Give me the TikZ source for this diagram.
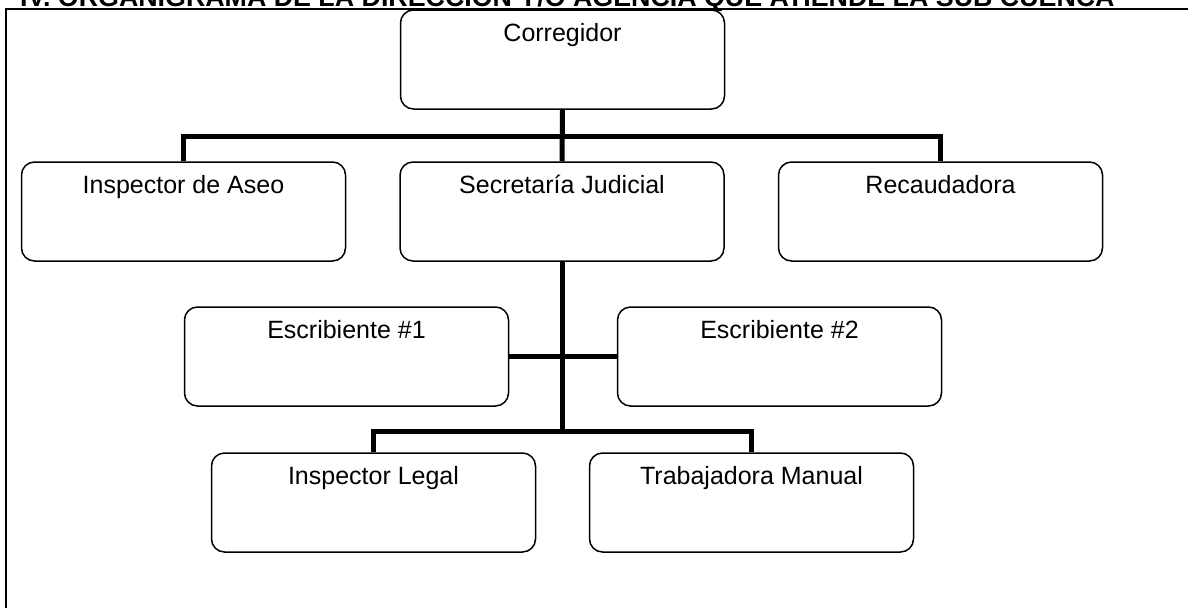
\documentclass[tikz,border=0pt]{standalone}
\usepackage{fontspec}
\setmainfont{Liberation Sans}
\begin{document}
\begin{tikzpicture}[x=1pt,y=1pt,
  box/.style={draw, line width=1.5pt, rounded corners=13pt, minimum width=324pt,
    inner xsep=0pt, inner ysep=0pt, text height=31pt, text depth=68pt,
    font=\fontsize{25}{30}\selectfont, align=center},
  conn/.style={line width=5pt},
  frame/.style={line width=2.5pt}]
\useasboundingbox (0,0) rectangle (1188,-608);
\fill[white] (0,0) rectangle (1188,-608);
\node[anchor=base west, inner sep=0pt, font=\bfseries\fontsize{26.8}{30}\selectfont] (title) at (20,-6)
  {IV. ORGANIGRAMA DE LA DIRECCIÓN Y/O AGENCIA QUE ATIENDE LA SUB CUENCA};
\draw[frame] (6,-608) -- (6,-9) -- (1188,-9);
\node[box] (cor) at (562.5,-59.5) {Corregidor};
\node[box] (asp) at (183.5,-211.5) {Inspector de Aseo};
\node[box] (sec) at (562,-211.5) {Secretaría Judicial};
\node[box] (rec) at (940.5,-211.5) {Recaudadora};
\node[box] (es1) at (346.5,-356.5) {Escribiente \#1};
\node[box] (es2) at (779.5,-356.5) {Escribiente \#2};
\node[box] (leg) at (373.5,-502.5) {Inspector Legal};
\node[box] (tra) at (751.5,-502.5) {Trabajadora Manual};
\coordinate (b1) at (562,-136);
\coordinate (b2) at (562,-431);
\draw[conn] (cor.south) -- (sec.north);
\draw[conn] (asp.north) |- (b1) -| (rec.north);
\draw[conn] (sec.south) -- (b2);
\draw[conn] (es1.east) -- (es2.west);
\draw[conn] (leg.north) |- (b2) -| (tra.north);
\end{tikzpicture}
\end{document}
